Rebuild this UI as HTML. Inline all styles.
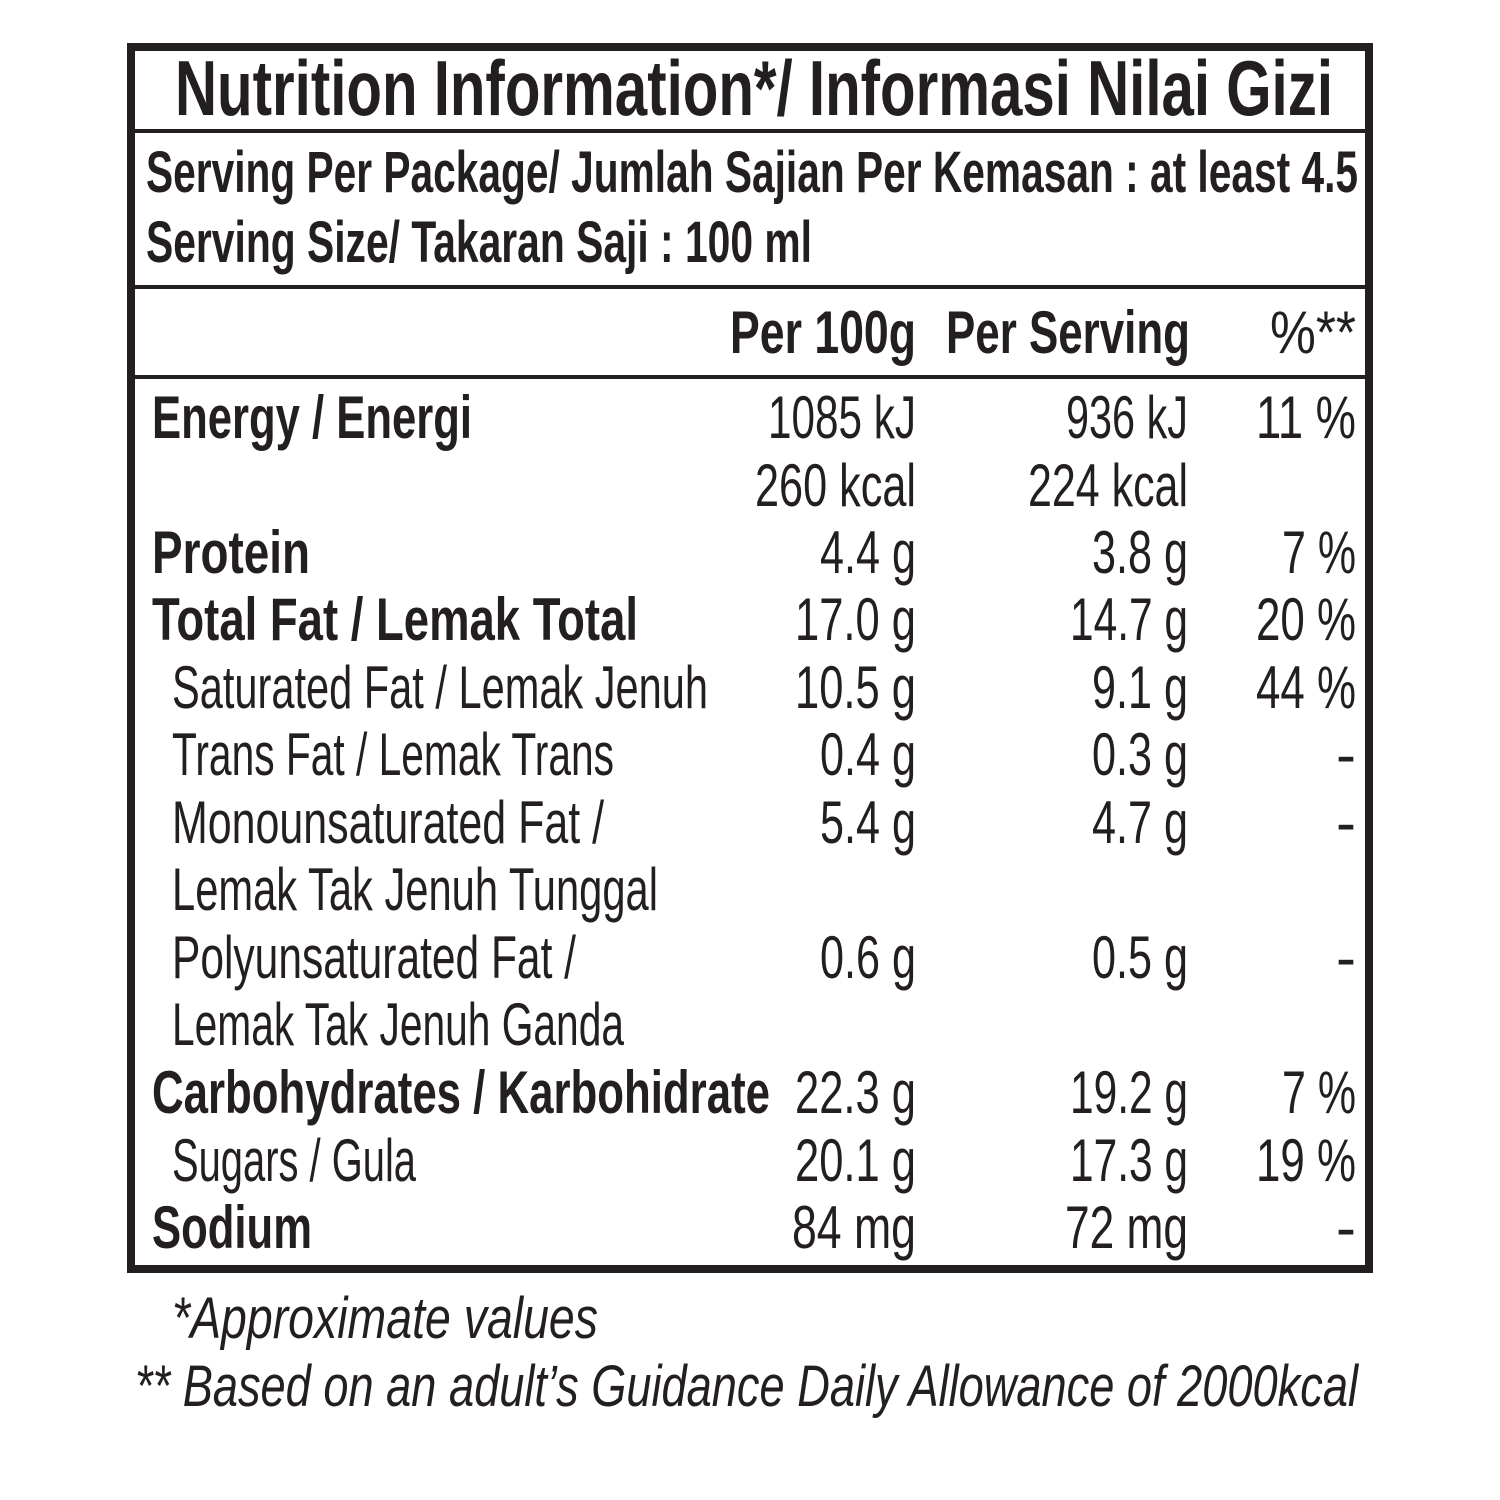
<!DOCTYPE html>
<html><head><meta charset="utf-8"><style>
html,body{margin:0;padding:0;background:#fff;width:1500px;height:1500px;overflow:hidden}
svg text{font-family:"Liberation Sans",sans-serif;fill:#231f20}
.b{font-weight:bold}
</style></head><body>
<svg width="1500" height="1500" viewBox="0 0 1500 1500" xmlns="http://www.w3.org/2000/svg">
<rect x="0" y="0" width="1500" height="1500" fill="#fff"/>
<rect x="131" y="47" width="1238" height="1222" fill="none" stroke="#231f20" stroke-width="8"/>
<line x1="131" y1="131" x2="1369" y2="131" stroke="#231f20" stroke-width="4"/>
<line x1="131" y1="287" x2="1369" y2="287" stroke="#231f20" stroke-width="4"/>
<line x1="131" y1="377" x2="1369" y2="377" stroke="#231f20" stroke-width="4"/>

<g lengthAdjust="spacingAndGlyphs">
<text class="b" x="175" y="115" font-size="78" textLength="1158" lengthAdjust="spacingAndGlyphs">Nutrition Information*/  Informasi Nilai Gizi</text>
<text class="b" x="146" y="192" font-size="58" textLength="1212" lengthAdjust="spacingAndGlyphs">Serving Per Package/ Jumlah Sajian Per Kemasan : at least 4.5</text>
<text class="b" x="146" y="262" font-size="58" textLength="666" lengthAdjust="spacingAndGlyphs">Serving Size/ Takaran Saji : 100 ml</text>

<text class="b" x="730" y="353" font-size="60" textLength="186" lengthAdjust="spacingAndGlyphs">Per 100g</text>
<text class="b" x="946" y="353" font-size="60" textLength="244" lengthAdjust="spacingAndGlyphs">Per Serving</text>
<text x="1270" y="353" font-size="60" textLength="86" lengthAdjust="spacingAndGlyphs">%**</text>
</g>

<g font-size="60">
<text class="b" x="152" y="438" textLength="320" lengthAdjust="spacingAndGlyphs">Energy / Energi</text>
<text class="b" x="152" y="573" textLength="158" lengthAdjust="spacingAndGlyphs">Protein</text>
<text class="b" x="152" y="640" textLength="486" lengthAdjust="spacingAndGlyphs">Total Fat / Lemak Total</text>
<text x="172" y="708" textLength="536" lengthAdjust="spacingAndGlyphs">Saturated Fat / Lemak Jenuh</text>
<text x="172" y="775" textLength="442" lengthAdjust="spacingAndGlyphs">Trans Fat / Lemak Trans</text>
<text x="172" y="843" textLength="432" lengthAdjust="spacingAndGlyphs">Monounsaturated Fat /</text>
<text x="172" y="910" textLength="486" lengthAdjust="spacingAndGlyphs">Lemak Tak Jenuh Tunggal</text>
<text x="172" y="978" textLength="404" lengthAdjust="spacingAndGlyphs">Polyunsaturated Fat /</text>
<text x="172" y="1045" textLength="452" lengthAdjust="spacingAndGlyphs">Lemak Tak Jenuh Ganda</text>
<text class="b" x="152" y="1113" textLength="618" lengthAdjust="spacingAndGlyphs">Carbohydrates / Karbohidrate</text>
<text x="172" y="1181" textLength="244" lengthAdjust="spacingAndGlyphs">Sugars / Gula</text>
<text class="b" x="152" y="1248" textLength="160" lengthAdjust="spacingAndGlyphs">Sodium</text>

<g text-anchor="end">
<text x="916" y="438" textLength="148" lengthAdjust="spacingAndGlyphs">1085 kJ</text>
<text x="916" y="506" textLength="161" lengthAdjust="spacingAndGlyphs">260 kcal</text>
<text x="916" y="573" textLength="96" lengthAdjust="spacingAndGlyphs">4.4 g</text>
<text x="916" y="640" textLength="121" lengthAdjust="spacingAndGlyphs">17.0 g</text>
<text x="916" y="708" textLength="121" lengthAdjust="spacingAndGlyphs">10.5 g</text>
<text x="916" y="775" textLength="96" lengthAdjust="spacingAndGlyphs">0.4 g</text>
<text x="916" y="843" textLength="96" lengthAdjust="spacingAndGlyphs">5.4 g</text>
<text x="916" y="978" textLength="96" lengthAdjust="spacingAndGlyphs">0.6 g</text>
<text x="916" y="1113" textLength="121" lengthAdjust="spacingAndGlyphs">22.3 g</text>
<text x="916" y="1181" textLength="121" lengthAdjust="spacingAndGlyphs">20.1 g</text>
<text x="916" y="1248" textLength="124" lengthAdjust="spacingAndGlyphs">84 mg</text>

<text x="1188" y="438" textLength="122" lengthAdjust="spacingAndGlyphs">936 kJ</text>
<text x="1188" y="506" textLength="160" lengthAdjust="spacingAndGlyphs">224 kcal</text>
<text x="1188" y="573" textLength="96" lengthAdjust="spacingAndGlyphs">3.8 g</text>
<text x="1188" y="640" textLength="118" lengthAdjust="spacingAndGlyphs">14.7 g</text>
<text x="1188" y="708" textLength="96" lengthAdjust="spacingAndGlyphs">9.1 g</text>
<text x="1188" y="775" textLength="96" lengthAdjust="spacingAndGlyphs">0.3 g</text>
<text x="1188" y="843" textLength="96" lengthAdjust="spacingAndGlyphs">4.7 g</text>
<text x="1188" y="978" textLength="96" lengthAdjust="spacingAndGlyphs">0.5 g</text>
<text x="1188" y="1113" textLength="118" lengthAdjust="spacingAndGlyphs">19.2 g</text>
<text x="1188" y="1181" textLength="118" lengthAdjust="spacingAndGlyphs">17.3 g</text>
<text x="1188" y="1248" textLength="123" lengthAdjust="spacingAndGlyphs">72 mg</text>

<text x="1356" y="438" textLength="100" lengthAdjust="spacingAndGlyphs">11 %</text>
<text x="1356" y="573" textLength="74" lengthAdjust="spacingAndGlyphs">7 %</text>
<text x="1356" y="640" textLength="100" lengthAdjust="spacingAndGlyphs">20 %</text>
<text x="1356" y="708" textLength="100" lengthAdjust="spacingAndGlyphs">44 %</text>
<text x="1356" y="775">-</text>
<text x="1356" y="843">-</text>
<text x="1356" y="978">-</text>
<text x="1356" y="1113" textLength="74" lengthAdjust="spacingAndGlyphs">7 %</text>
<text x="1356" y="1181" textLength="100" lengthAdjust="spacingAndGlyphs">19 %</text>
<text x="1356" y="1248">-</text>
</g>
</g>

<text x="172" y="1338" font-size="58" font-style="italic" textLength="426" lengthAdjust="spacingAndGlyphs">*Approximate values</text>
<text x="135" y="1406" font-size="58" font-style="italic" textLength="1223" lengthAdjust="spacingAndGlyphs">** Based on an adult’s Guidance Daily Allowance of 2000kcal</text>
</svg>
</body></html>
